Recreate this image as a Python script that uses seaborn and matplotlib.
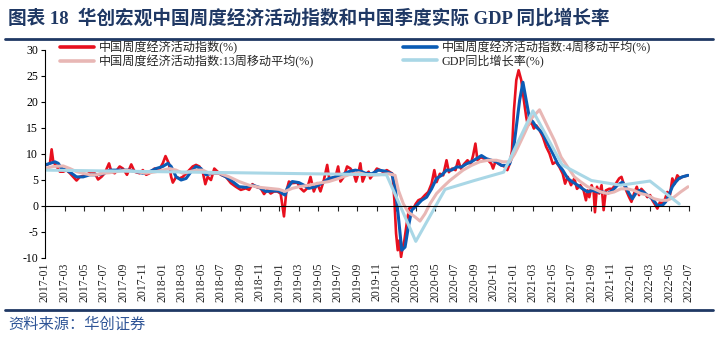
import matplotlib
matplotlib.use("Agg")
import matplotlib.pyplot as plt
import seaborn as sns
import pandas as pd
from matplotlib.lines import Line2D

# ---------------- data (x = months since 2017-01) ----------------
red_t = [0.0, 0.17, 0.51, 0.68, 0.85, 1.19, 1.53, 1.87, 2.21, 2.55, 2.89, 3.23, 3.57, 3.91, 4.25,
         4.76, 5.10, 5.44, 5.78, 6.12, 6.56, 6.80, 7.14, 7.65, 7.99, 8.40, 8.84, 9.18, 9.69, 10.03,
         10.37, 10.71, 11.22, 11.73, 12.07, 12.35, 12.69, 12.93, 13.10, 13.44, 13.78, 14.12, 14.63,
         15.14, 15.48, 15.82, 16.16, 16.43, 16.67, 17.01, 17.35, 17.69, 18.03, 18.54, 19.05, 19.56,
         20.07, 20.58, 20.92, 21.26, 21.60, 22.11, 22.45, 22.79, 23.13, 23.47, 23.81, 24.15, 24.49,
         24.73, 25.00, 25.34, 25.85, 26.19, 26.53, 26.87, 27.21, 27.55, 27.89, 28.23, 28.58, 28.92,
         29.15, 29.43, 29.77, 30.04, 30.28, 30.62, 30.96, 31.30, 31.64, 31.87, 32.08, 32.32, 32.55,
         32.83, 33.17, 33.33, 33.67, 34.01, 34.35, 34.69, 35.03, 35.37, 35.61, 35.81, 35.98, 36.15,
         36.32, 36.49, 36.66, 36.83, 37.07, 37.31, 37.51, 37.75, 37.99, 38.26, 38.60, 38.94, 39.28,
         39.62, 39.90, 40.13, 40.47, 40.81, 41.15, 41.39, 41.73, 42.07, 42.34, 42.62, 42.96, 43.30,
         43.64, 43.87, 44.11, 44.32, 44.66, 45.00, 45.41, 45.75, 45.92, 46.15, 46.49, 46.83, 47.17,
         47.38, 47.62, 47.86, 48.06, 48.30, 48.54, 48.81, 49.08, 49.32, 49.49, 49.83, 50.10, 50.34,
         50.68, 51.02, 51.36, 51.70, 52.04, 52.38, 52.72, 53.06, 53.30, 53.57, 53.91, 54.25, 54.52,
         54.86, 55.20, 55.44, 55.61, 55.78, 56.02, 56.23, 56.36, 56.57, 56.80, 57.04, 57.25, 57.48,
         57.82, 58.16, 58.50, 58.84, 59.08, 59.35, 59.63, 59.86, 60.10, 60.37, 60.65, 60.88, 61.12,
         61.40, 61.73, 62.01, 62.25, 62.48, 62.76, 63.03, 63.27, 63.50, 63.78, 64.05, 64.29, 64.53,
         64.80, 65.07, 65.31, 65.90]
red_v = [7.9, 7.9, 8.2, 10.9, 8.5, 7.6, 6.6, 6.6, 6.9, 6.3, 5.6, 4.9, 5.6, 5.8, 6.0,
         6.6, 6.3, 5.1, 5.6, 6.3, 8.2, 6.6, 6.3, 7.6, 7.2, 6.0, 8.0, 6.6, 6.3, 6.9,
         6.0, 6.3, 7.2, 7.1, 8.2, 9.6, 8.2, 5.6, 4.5, 5.6, 5.3, 5.6, 6.6,
         7.6, 7.9, 7.6, 6.6, 4.2, 5.6, 5.0, 7.2, 6.6, 6.0, 5.6, 4.4, 3.7,
         3.1, 3.4, 3.1, 4.2, 3.7, 3.4, 2.3, 3.1, 2.4, 2.8, 2.8, 2.4, -2.0,
         2.8, 4.7, 4.4, 4.5, 3.4, 2.8, 3.4, 5.6, 2.8, 4.4, 2.8, 5.0, 7.9,
         5.0, 5.3, 5.6, 7.6, 4.7, 5.6, 7.6, 7.2, 6.3, 4.7, 6.0, 8.2, 4.7,
         6.0, 6.6, 5.3, 6.2, 7.2, 6.9, 6.5, 6.9, 6.5, 6.2, 1.1, -5.3, -8.5,
         -6.6, -9.8, -7.9, -6.6, -3.4, -0.5, -0.2, -0.5, 0.4, 1.1, 1.4, 2.1, 2.7,
         4.3, 6.9, 4.6, 6.2, 5.9, 8.8, 6.5, 7.2, 6.9, 8.8, 7.2, 8.1, 8.8,
         8.1, 9.7, 12.0, 8.8, 9.4, 9.1, 8.8, 8.1, 7.2, 8.5, 8.1, 7.8, 7.5,
         6.9, 8.1, 10.7, 18.4, 24.2, 26.1, 24.2, 20.3, 17.1, 15.5, 16.2, 14.9, 15.5,
         14.6, 13.3, 11.4, 10.1, 8.1, 8.5, 7.5, 6.2, 4.3, 5.6, 4.0, 5.3, 3.3,
         4.0, 3.0, 1.1, 3.0, 1.7, 4.0, 2.7, -1.2, 3.7, 2.4, 4.0, -0.8, 3.0,
         3.3, 3.3, 4.3, 5.3, 5.6, 4.0, 2.7, 1.7, 0.8, 2.4, 3.7, 2.1, 3.3,
         2.7, 1.7, 2.1, 1.1, 0.4, -0.5, 0.8, 0.4, 1.1, 2.7, 2.1, 5.3, 4.3,
         5.9, 5.3, 5.6, 5.9]

ma4_t = [0.0, 0.51, 1.02, 1.36, 1.70, 2.21, 2.72, 3.23, 3.91, 4.59, 5.27, 5.95, 6.63, 7.31, 7.99,
         8.67, 9.35, 10.03, 10.71, 11.39, 12.07, 12.59, 12.93, 13.44, 13.95, 14.46, 14.97, 15.48,
         15.99, 16.50, 17.18, 17.86, 18.54, 19.22, 19.90, 20.58, 21.26, 21.94, 22.62, 23.30, 23.98,
         24.32, 24.60, 24.83, 25.34, 26.02, 26.53, 27.04, 27.72, 28.40, 29.09, 29.77, 30.45, 31.13,
         31.81, 32.49, 32.82, 33.50, 34.18, 34.86, 35.54, 35.88, 36.22, 36.56, 36.90, 37.24, 37.58,
         38.09, 38.60, 39.11, 39.62, 40.13, 40.64, 41.15, 41.66, 42.17, 42.68, 43.19, 43.70, 44.21,
         44.73, 45.24, 45.75, 46.26, 46.77, 47.28, 47.62, 47.96, 48.30, 48.64, 48.98, 49.32, 49.66,
         50.00, 50.34, 50.68, 51.02, 51.53, 52.04, 52.55, 53.06, 53.57, 54.08, 54.59, 55.10, 55.61,
         56.12, 56.63, 57.14, 57.65, 58.16, 58.67, 59.18, 59.52, 59.86, 60.20, 60.54, 60.88, 61.33,
         61.73, 62.25, 62.76, 63.27, 63.61, 63.95, 64.29, 64.63, 64.97, 65.31, 65.90]
ma4_v = [7.9, 8.2, 8.5, 8.2, 7.2, 6.9, 6.3, 5.6, 5.6, 6.0, 6.0, 6.2, 6.9, 6.9, 6.9,
         6.9, 6.6, 6.3, 6.6, 7.2, 7.6, 8.2, 7.6, 5.6, 5.0, 5.3, 6.6, 7.6,
         7.2, 6.0, 6.3, 6.3, 5.6, 4.7, 3.7, 3.6, 4.0, 3.6, 2.8, 2.9, 2.9,
         2.4, 2.1, 3.4, 4.7, 4.5, 4.0, 3.4, 3.7, 4.4, 5.3, 5.6, 6.0, 6.6,
         6.9, 6.6, 6.3, 6.2, 6.9, 6.7, 6.2, 3.7, -2.1, -8.5, -7.9, -4.0, -0.8,
         0.1, 1.1, 1.7, 3.3, 5.3, 5.9, 6.9, 6.9, 7.5, 7.5, 8.1, 8.5, 9.1,
         9.7, 9.1, 8.8, 8.5, 7.8, 7.8, 8.1, 10.1, 15.2, 20.3, 23.8, 20.3, 16.8,
         16.2, 15.2, 14.6, 13.9, 12.0, 10.1, 8.1, 6.9, 5.3, 4.6, 4.0, 3.3, 2.7,
         3.0, 2.7, 2.7, 2.4, 3.0, 4.0, 4.6, 3.7, 2.4, 1.4, 2.4, 3.0, 2.7,
         2.1, 1.4, 0.1, 0.1, 0.8, 2.1, 3.7, 4.6, 5.3, 5.6, 5.9]

ma13_t = [0.0, 0.85, 1.87, 2.55, 3.23, 3.91, 4.59, 5.27, 5.95, 6.63, 7.31, 8.33, 9.35, 10.37,
          11.39, 12.07, 12.76, 13.44, 14.12, 14.80, 15.48, 16.16, 16.84, 17.86, 18.88, 19.90,
          20.92, 21.94, 22.96, 23.98, 24.60, 25.34, 26.02, 27.04, 28.07, 29.09, 30.11, 31.13,
          32.15, 33.16, 34.18, 35.20, 35.88, 36.22, 36.73, 37.24, 37.92, 38.43, 38.94, 39.45,
          40.13, 40.81, 41.49, 42.17, 42.85, 43.70, 44.55, 45.41, 46.26, 46.94, 47.62, 48.13,
          48.47, 49.15, 49.83, 50.68, 51.53, 52.21, 52.89, 53.57, 54.25, 54.93, 55.61, 56.29,
          56.97, 57.65, 58.33, 59.01, 59.69, 60.37, 61.05, 61.73, 62.42, 63.10, 63.78, 64.46,
          65.14, 65.90]
ma13_v = [7.2, 7.6, 7.7, 7.2, 6.6, 6.3, 6.0, 6.0, 6.3, 6.4, 6.6, 6.9, 6.6, 6.3,
          6.6, 6.9, 7.2, 6.9, 6.3, 6.6, 6.9, 6.9, 6.3, 6.3, 5.6, 4.7,
          4.0, 3.6, 3.4, 3.2, 2.8, 3.4, 3.7, 4.0, 4.4, 4.7, 5.3, 6.0,
          6.4, 5.9, 6.0, 6.2, 5.9, 3.0, 0.4, -1.2, -2.1, -2.9, -1.5, 0.4,
          2.4, 3.7, 4.9, 5.9, 6.9, 7.8, 8.5, 8.8, 8.8, 8.5, 8.5, 10.0,
          11.3, 14.0, 16.8, 18.5, 15.2, 12.6, 9.4, 7.5, 5.6, 4.6, 3.7, 3.3,
          2.7, 2.4, 2.7, 3.3, 3.3, 3.0, 2.4, 2.1, 1.4, 1.1, 1.1, 1.7,
          2.7, 3.7]

gdp_t = [0, 35, 38, 41, 44, 47, 50, 53, 56, 59, 62, 65]
gdp_v = [6.9, 6.0, -6.8, 3.2, 4.9, 6.5, 18.3, 7.9, 4.9, 4.0, 4.8, 0.4]

tick_labels = ["2017-01", "2017-03", "2017-05", "2017-07", "2017-09", "2017-11",
               "2018-01", "2018-03", "2018-05", "2018-07", "2018-09", "2018-11",
               "2019-01", "2019-03", "2019-05", "2019-07", "2019-09", "2019-11",
               "2020-01", "2020-03", "2020-05", "2020-07", "2020-09", "2020-11",
               "2021-01", "2021-03", "2021-05", "2021-07", "2021-09", "2021-11",
               "2022-01", "2022-03", "2022-05", "2022-07"]
y_ticks = [-10, -5, 0, 5, 10, 15, 20, 25, 30]

names = ["中国周度经济活动指数(%)", "中国周度经济活动指数:4周移动平均(%)",
         "中国周度经济活动指数:13周移动平均(%)", "GDP同比增长率(%)"]
title = "图表 18  华创宏观中国周度经济活动指数和中国季度实际 GDP 同比增长率"
source = "资料来源：华创证券"

# ---------------- style ----------------
sns.set_style("ticks")
plt.rcParams["font.family"] = ["Liberation Serif", "Noto Sans CJK SC"]
plt.rcParams["axes.unicode_minus"] = False

W, H = 718, 344
fig = plt.figure(figsize=(W / 100, H / 100), dpi=100)
fig.patch.set_facecolor("white")
ax = fig.add_axes([45 / W, 1 - 258 / H, (689 - 45) / W, (258 - 50) / H])
ax.set_facecolor("white")

colors = ["#E8101E", "#0B5CB5", "#E8B7B5", "#A9D7E6"]
lws = [1.9, 2.2, 2.2, 2.2]
series = [(red_t, red_v), (ma4_t, ma4_v), (ma13_t, ma13_v), (gdp_t, gdp_v)]
for (t, v), c, lw, n in zip(series, colors, lws, names):
    df = pd.DataFrame({"t": t, "v": v})
    sns.lineplot(data=df, x="t", y="v", ax=ax, color=c, linewidth=lw, label=n,
                 sort=False, estimator=None)

ax.set_xlim(0, 66)
ax.set_ylim(-10, 30)
ax.set_xlabel("")
ax.set_ylabel("")

# y axis
ax.set_yticks(y_ticks)
ax.set_yticklabels([str(v) for v in y_ticks])
ax.tick_params(axis="y", direction="out", length=3, width=0.8, labelsize=8.5, pad=2,
               colors="black")
for s in ["top", "right"]:
    ax.spines[s].set_visible(False)
ax.spines["left"].set_linewidth(0.8)
ax.spines["left"].set_color("black")

# x axis line at zero with ticks, labels at the bottom
xt = list(range(0, 67, 2))
ax.spines["bottom"].set_position(("data", 0))
ax.spines["bottom"].set_linewidth(0.8)
ax.spines["bottom"].set_color("black")
ax.set_xticks(xt)
ax.tick_params(axis="x", direction="out", length=3.5, width=0.8, labelbottom=False)
sec = ax.secondary_xaxis(0.0)
sec.set_xticks(xt, labels=tick_labels)
sec.tick_params(axis="x", length=0, pad=3, labelsize=8.5, labelrotation=90)
sec.spines["bottom"].set_visible(False)

# legend
h, l = ax.get_legend_handles_labels()
order = [0, 2, 1, 3]
leg = ax.legend([h[i] for i in order], [l[i] for i in order], ncol=2, loc="upper left",
                bbox_to_anchor=(60 / W, 1 - 40.5 / H), bbox_transform=fig.transFigure,
                frameon=False, fontsize=8.7, handlelength=2.8, handletextpad=0.4,
                columnspacing=7.4, labelspacing=0.08, borderpad=0, borderaxespad=0)
for line in leg.get_lines():
    line.set_linewidth(2.6)

# title, rules, source
fig.text(8 / W, 1 - 18.5 / H, title, fontsize=13.4, fontweight="bold", color="#1F3864",
         va="center", ha="left")
fig.add_artist(Line2D([5 / W, 713 / W], [1 - 38.5 / H, 1 - 38.5 / H], color="#1F3864",
                      linewidth=2.0, transform=fig.transFigure))
fig.add_artist(Line2D([5 / W, 713 / W], [1 - 310 / H, 1 - 310 / H], color="#1F3864",
                      linewidth=2.0, transform=fig.transFigure))
fig.text(8 / W, 1 - 325 / H, source, fontsize=11, color="#2F5597", va="center", ha="left",
         style="italic")

fig.savefig("out.png", dpi=100, facecolor="white")
